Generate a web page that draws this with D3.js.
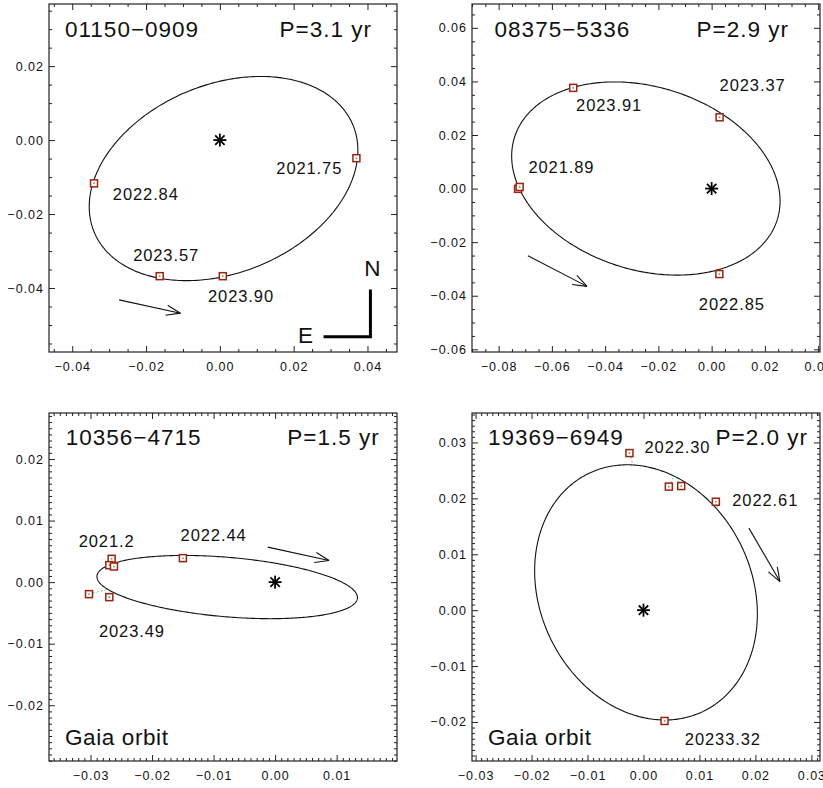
<!DOCTYPE html>
<html><head><meta charset="utf-8">
<script src="https://cdn.jsdelivr.net/npm/d3@7"></script>
<style>
body{margin:0;background:#fff}
text{font-family:"Liberation Sans",Arial,Helvetica,sans-serif;fill:#111}
</style>
</head><body><svg id="c" width="823" height="788"></svg>
<script>
// ---------------- data ----------------
const starNames = ["01150\u22120909","08375\u22125336","10356\u22124715","19369\u22126949"];
const periodLabels = ["P=3.1 yr","P=2.9 yr","P=1.5 yr","P=2.0 yr"];
const gaiaOrbit = [false,false,true,true];
const xDomains = [[-0.0463,0.0480],[-0.0900,0.0407],[-0.03675,0.01981],[-0.03064,0.03154]];
const yDomains = [[-0.0573,0.0368],[-0.0610,0.0689],[-0.02906,0.02748],[-0.02698,0.03527]];
const xMajorTicks = [[-0.04,-0.02,0,0.02,0.04],[-0.08,-0.06,-0.04,-0.02,0,0.02,0.04],[-0.03,-0.02,-0.01,0,0.01],[-0.03,-0.02,-0.01,0,0.01,0.02,0.03]];
const yMajorTicks = [[-0.04,-0.02,0,0.02],[-0.06,-0.04,-0.02,0,0.02,0.04,0.06],[-0.02,-0.01,0,0.01,0.02],[-0.02,-0.01,0,0.01,0.02,0.03]];
const minorSteps = [0.005,0.005,0.001,0.001];
// orbit ellipse: centre, semi-axes, orientation (deg from +x)
const orbitCx = [0.0010,-0.0247,-0.00779,0.00045];
const orbitCy = [-0.0104,0.00375,-0.0008,0.00318];
const orbitA = [0.03793,0.05168,0.02124,0.02361];
const orbitB = [0.02546,0.0342,0.00483,0.01896];
const orbitTheta = [22.3,-17.15,-4.85,-64.6];
// measured positions
const obsX = [[0.0370,-0.0341,-0.0163,0.0008],
              [-0.0520,0.0030,-0.0727,-0.0721,0.0029],
              [-0.02657,-0.02695,-0.02619,-0.01499,-0.03025,-0.02695],
              [-0.0025,0.00453,0.00674,0.01293,0.00376]];
const obsY = [[-0.0049,-0.0117,-0.0368,-0.0368],
              [0.0376,0.0266,-0.0001,0.0006,-0.0319],
              [0.00379,0.00276,0.00254,0.0039,-0.00195,-0.00244],
              [0.0281,0.0221,0.0222,0.0194,-0.01982]];
// computed positions on the orbit (residual lines), null = not drawn
const calcX = [[null,null,null,null],
               [null,null,null,null,null],
               [null,-0.02604,null,null,-0.0271,null],
               [-0.0020,0.0054,0.0059,0.0132,null]];
const calcY = [[null,null,null,null],
               [null,null,null,null,null],
               [null,0.00328,null,null,-0.00114,null],
               [0.0264,0.0238,0.0236,0.0183,null]];
// epoch labels
const labelText = [["2021.75","2022.84","2023.57","2023.90"],
                   ["2023.91","2023.37","2021.89","2022.85"],
                   ["2021.2","2022.44","2023.49"],
                   ["2022.30","2022.61","20233.32"]];
const labelX = [[0.0153,-0.0290,-0.0235,-0.0032],
                [-0.0509,0.0030,-0.0688,-0.0048],
                [-0.03193,-0.01536,-0.02863],
                [0.00018,0.01587,0.00739]];
const labelY = [[-0.0093,-0.0162,-0.0326,-0.0437],
                [0.0288,0.0363,0.0058,-0.0454],
                [0.00579,0.00676,-0.00885],
                [0.0282,0.0186,-0.0241]];
// direction-of-motion arrows
const arrowX0 = [-0.0273,-0.0690,-0.00119,0.01884];
const arrowY0 = [-0.0432,-0.0251,0.00569,0.01468];
const arrowX1 = [-0.0107,-0.0468,0.00877,0.02438];
const arrowY1 = [-0.0468,-0.0365,0.00351,0.00512];
// N-E compass (panel 1)
const compassX = [0.0281,0.0408,0.0408];
const compassY = [-0.0532,-0.0532,-0.0404];

// ---------------- layout ----------------
const frames = [[49,4],[472,4],[49,413],[472,413]];
const S = 348;
const titleDx = [16,22.6,16.7,16];
const titleDy = [33.3,33.3,32.4,32.4];
const periodRight = [25,31,17.3,12];

const svg = d3.select("#c");
const fmt = d => (d < -1e-9 ? "\u2212" : "") + Math.abs(d).toFixed(2);

frames.forEach((fr, i) => {
  const g = svg.append("g").attr("transform", `translate(${fr[0]},${fr[1]})`);
  const x = d3.scaleLinear().domain(xDomains[i]).range([0, S]);
  const y = d3.scaleLinear().domain(yDomains[i]).range([S, 0]);

  const minors = (dom, majors) => {
    const st = minorSteps[i], out = [];
    for (let k = Math.ceil(dom[0] / st); k * st <= dom[1]; k++) {
      const v = k * st;
      if (!majors.some(m => Math.abs(m - v) < st / 10)) out.push(+v.toFixed(5));
    }
    return out;
  };
  const xMin = minors(xDomains[i], xMajorTicks[i]);
  const yMin = minors(yDomains[i], yMajorTicks[i]);

  const axG = g.append("g").attr("class", "axes");
  const addAxis = (axis, tr) => {
    const a = axG.append("g").attr("transform", tr).call(axis);
    a.select(".domain").remove();
    a.selectAll(".tick line").attr("stroke", "#222").attr("stroke-width", 1);
    return a;
  };
  const bx = addAxis(d3.axisBottom(x).tickValues(xMajorTicks[i]).tickSize(-6).tickPadding(10).tickFormat(fmt), `translate(0,${S})`);
  addAxis(d3.axisBottom(x).tickValues(xMin).tickSize(-3).tickFormat(""), `translate(0,${S})`);
  addAxis(d3.axisTop(x).tickValues(xMajorTicks[i]).tickSize(-6).tickFormat(""), "translate(0,0)");
  addAxis(d3.axisTop(x).tickValues(xMin).tickSize(-3).tickFormat(""), "translate(0,0)");
  const ly = addAxis(d3.axisLeft(y).tickValues(yMajorTicks[i]).tickSize(-6).tickPadding(5).tickFormat(fmt), "translate(0,0)");
  addAxis(d3.axisLeft(y).tickValues(yMin).tickSize(-3).tickFormat(""), "translate(0,0)");
  addAxis(d3.axisRight(y).tickValues(yMajorTicks[i]).tickSize(-6).tickFormat(""), `translate(${S},0)`);
  addAxis(d3.axisRight(y).tickValues(yMin).tickSize(-3).tickFormat(""), `translate(${S},0)`);
  [bx, ly].forEach(a => a.selectAll("text")
      .style("font-family", '"Liberation Sans",Arial,sans-serif')
      .style("font-size", "12.5px").style("letter-spacing", "1px").attr("fill", "#111"));

  g.append("rect").attr("width", S).attr("height", S)
    .attr("fill", "none").attr("stroke", "#222").attr("stroke-width", 1.2);

  // orbit ellipse
  const th = orbitTheta[i] * Math.PI / 180;
  const ts = d3.range(0, 361, 1).map(d => d * Math.PI / 180);
  const pts = ts.map(t => {
    const ex = orbitA[i] * Math.cos(t), ey = orbitB[i] * Math.sin(t);
    return [orbitCx[i] + ex * Math.cos(th) - ey * Math.sin(th),
            orbitCy[i] + ex * Math.sin(th) + ey * Math.cos(th)];
  });
  g.append("path").attr("d", d3.line().x(d => x(d[0])).y(d => y(d[1]))(pts))
    .attr("fill", "none").attr("stroke", "#111").attr("stroke-width", 1.1);

  // residual lines
  obsX[i].forEach((ox, k) => {
    if (calcX[i][k] === null) return;
    g.append("line").attr("x1", x(ox)).attr("y1", y(obsY[i][k]))
      .attr("x2", x(calcX[i][k])).attr("y2", y(calcY[i][k]))
      .attr("stroke", "#6fcf6f").attr("stroke-width", 1).attr("stroke-dasharray", "2,2");
  });

  // observed points
  obsX[i].forEach((ox, k) => {
    const px = x(ox), py = y(obsY[i][k]);
    g.append("rect").attr("x", px - 3.5).attr("y", py - 3.5).attr("width", 7).attr("height", 7)
      .attr("fill", "#fff").attr("stroke", "#9a2410").attr("stroke-width", 1.5);
    g.append("rect").attr("x", px - 0.75).attr("y", py - 0.75).attr("width", 1.5).attr("height", 1.5)
      .attr("fill", "#5a8a5a");
  });

  // primary star (asterisk)
  const sx = x(0), sy = y(0), r = 6.5;
  const star = g.append("g").attr("stroke", "#000").attr("stroke-width", 1.8);
  [[0, 1], [1, 0], [0.72, 0.72], [0.72, -0.72]].forEach(([dx, dy]) => {
    star.append("line").attr("x1", sx - dx * r).attr("y1", sy - dy * r)
      .attr("x2", sx + dx * r).attr("y2", sy + dy * r);
  });

  // epoch labels
  labelText[i].forEach((t, k) => {
    g.append("text").attr("x", x(labelX[i][k])).attr("y", y(labelY[i][k]))
      .style("font-size", "16.5px").style("letter-spacing", "0.9px").text(t);
  });

  // arrow
  const ax0 = x(arrowX0[i]), ay0 = y(arrowY0[i]), ax1 = x(arrowX1[i]), ay1 = y(arrowY1[i]);
  const ang = Math.atan2(ay1 - ay0, ax1 - ax0), L = 15, da = 20 * Math.PI / 180;
  const ar = g.append("g").attr("stroke", "#111").attr("stroke-width", 1.1).attr("fill", "none");
  ar.append("line").attr("x1", ax0).attr("y1", ay0).attr("x2", ax1).attr("y2", ay1);
  [da, -da].forEach(d => ar.append("line").attr("x1", ax1).attr("y1", ay1)
    .attr("x2", ax1 - L * Math.cos(ang + d)).attr("y2", ay1 - L * Math.sin(ang + d)));

  // titles
  g.append("text").attr("x", titleDx[i]).attr("y", titleDy[i])
    .style("font-size", "22.5px").style("letter-spacing", "1px").text(starNames[i]);
  g.append("text").attr("x", S - periodRight[i]).attr("y", titleDy[i]).attr("text-anchor", "end")
    .style("font-size", "22.5px").style("letter-spacing", "1px").text(periodLabels[i]);
  if (gaiaOrbit[i]) {
    g.append("text").attr("x", 16).attr("y", S - 16)
      .style("font-size", "22.5px").style("letter-spacing", "0.6px").text("Gaia orbit");
  }

  // compass
  if (i === 0) {
    g.append("path").attr("d", d3.line().x(d => x(d)).y((d, k) => y(compassY[k]))(compassX))
      .attr("fill", "none").attr("stroke", "#000").attr("stroke-width", 3);
    g.append("text").attr("x", x(0.0413)).attr("y", y(-0.0368)).attr("text-anchor", "middle")
      .style("font-size", "22.5px").text("N");
    g.append("text").attr("x", x(0.0212)).attr("y", y(-0.0549))
      .style("font-size", "22.5px").text("E");
  }
});
</script>
</body></html>
